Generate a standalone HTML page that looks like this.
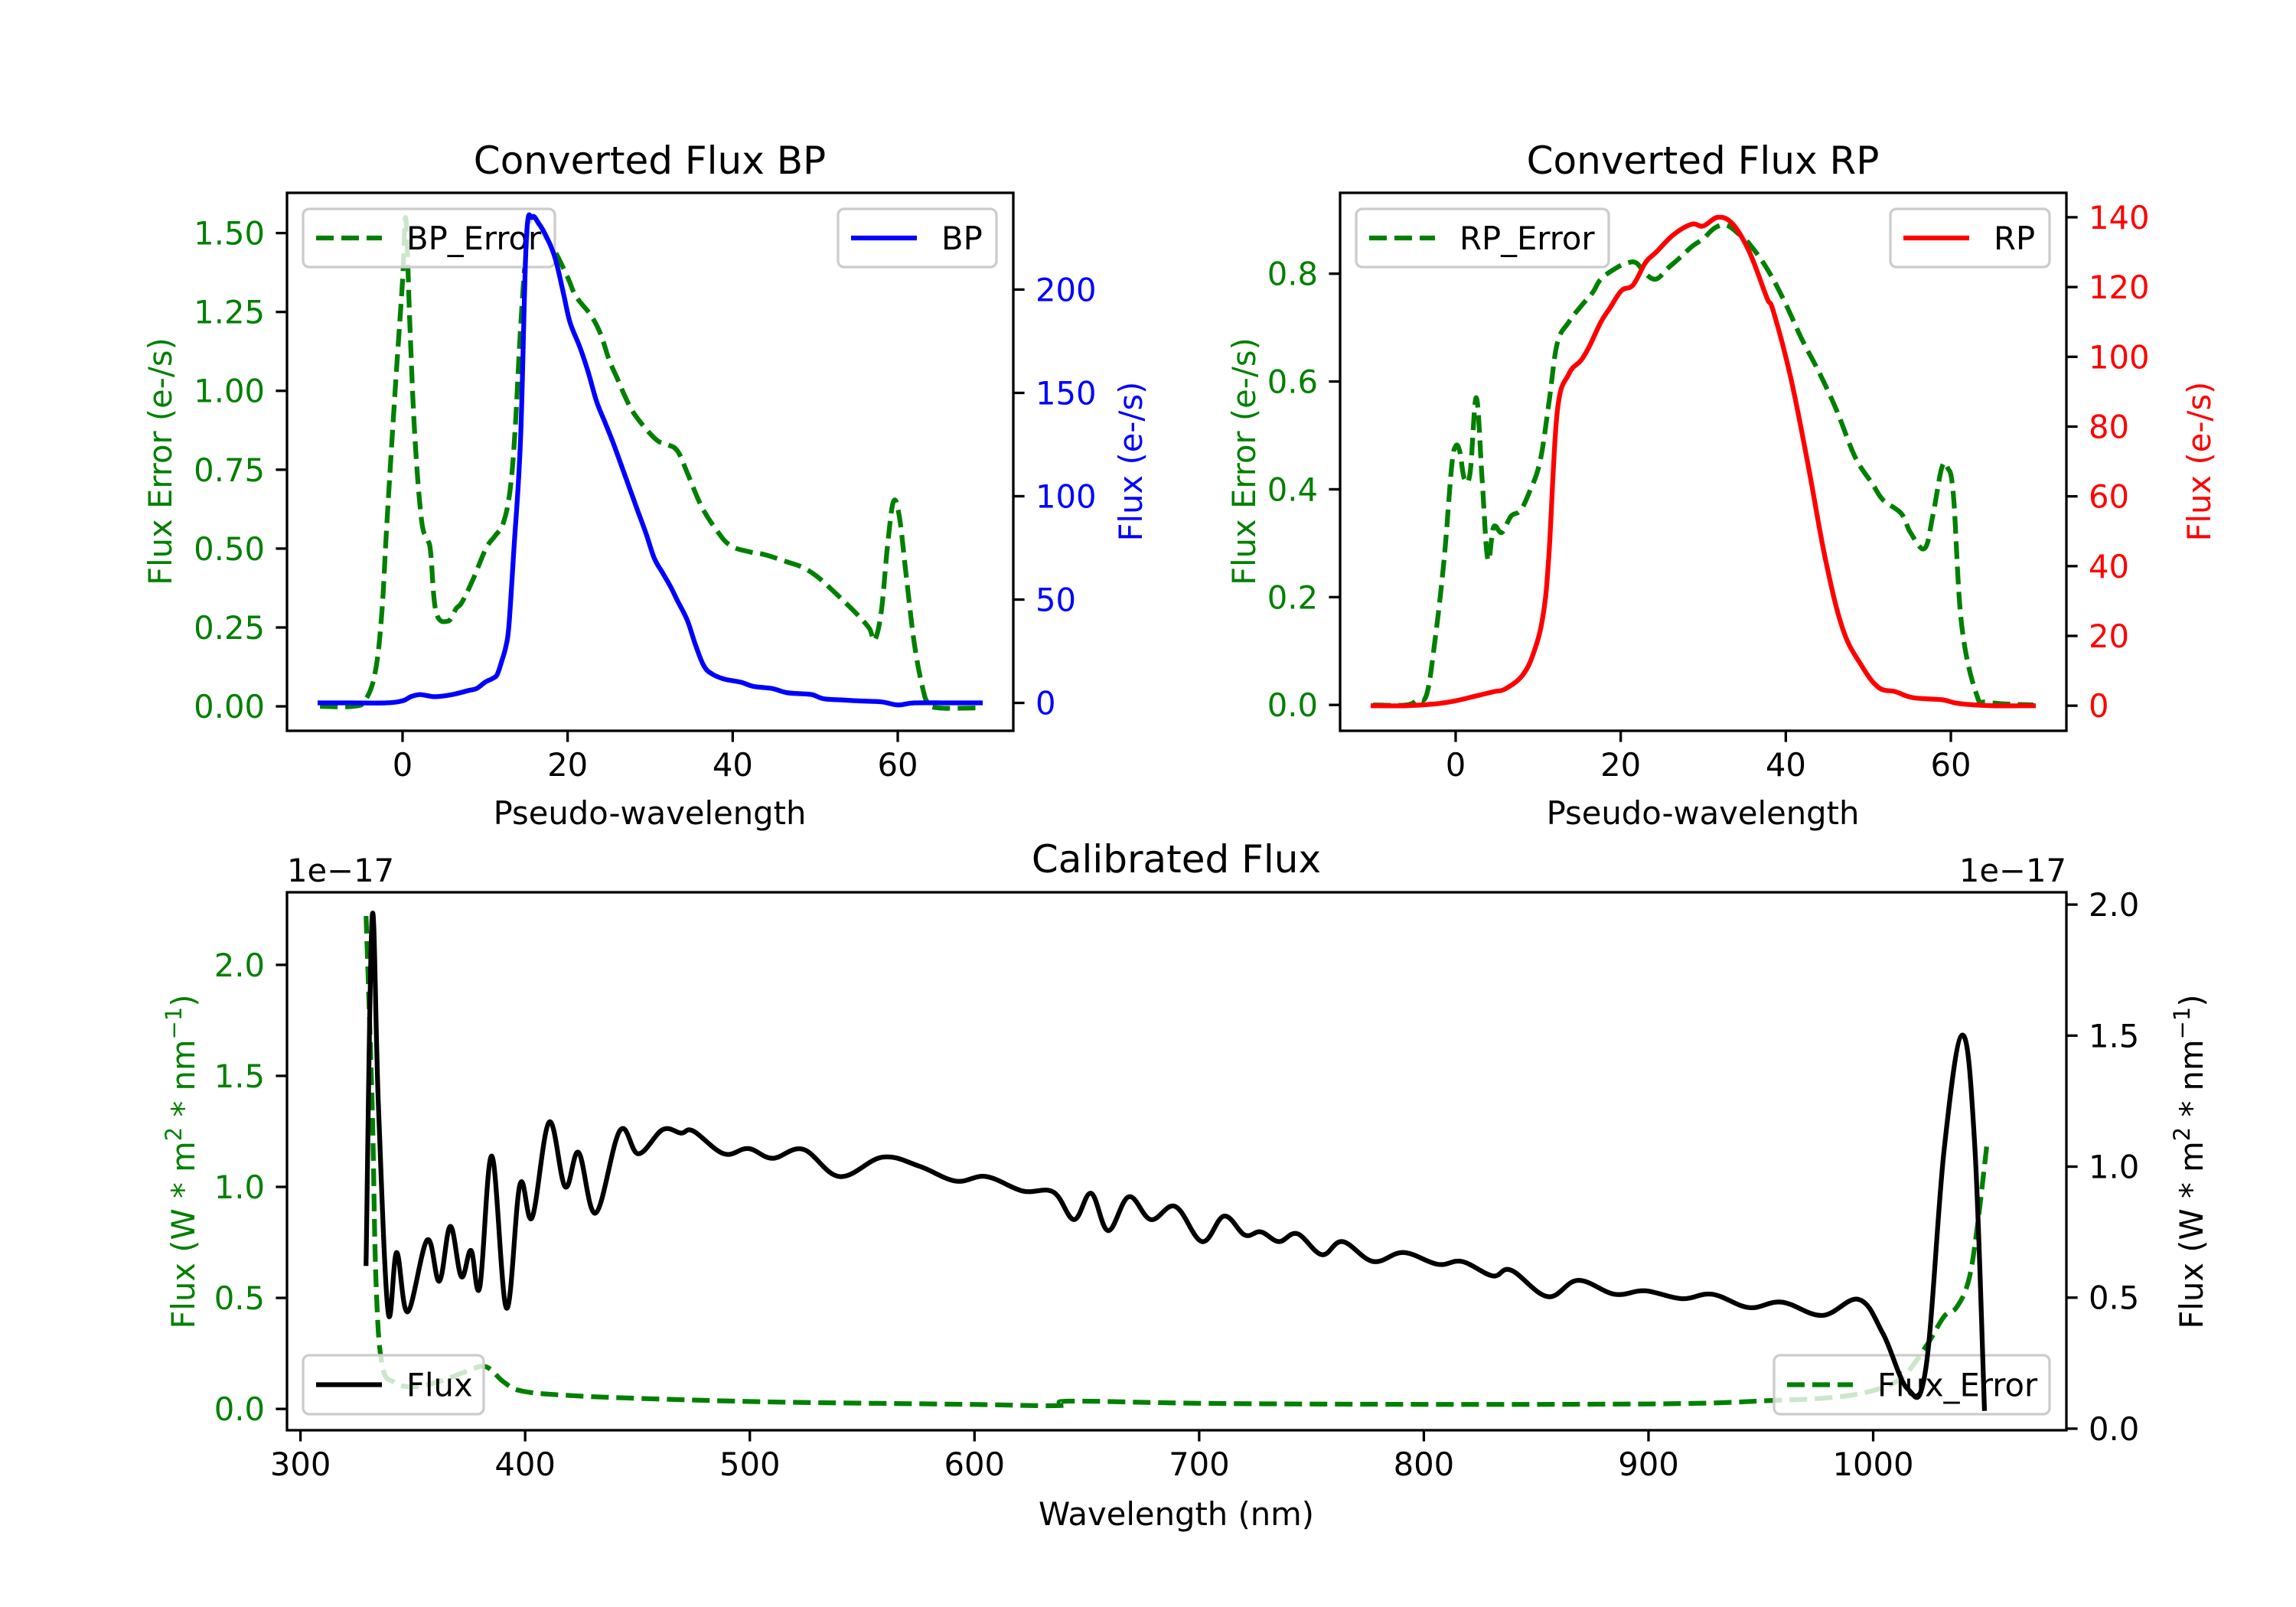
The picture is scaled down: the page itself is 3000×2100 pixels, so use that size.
<!DOCTYPE html>
<html><head><meta charset="utf-8">
<style>
html,body{margin:0;padding:0;background:#fff;}
svg{display:block;font-family:"DejaVu Sans","Liberation Sans",sans-serif;}
</style></head>
<body>
<svg id="fig" xmlns="http://www.w3.org/2000/svg" width="3000" height="2100" viewBox="0 0 3000 2100">
<rect x="0" y="0" width="3000" height="2100" fill="#fff"/>
</svg>
<script>
// ---- BP panel data ----
const bpErrX = [-10,-6,-4.5,-3.3,-2.5,-1.9,-0.85,0,0.4,0.9,1.5,2.3,3.0,3.4,4.05,5.5,6.5,7.2,8.5,10.1,11.2,12.2,13.0,13.6,14.3,15,15.7,17,18.5,20,21,22.8,24,25,26,27,28,29.8,31,32,33.3,34.5,36.2,38,39.7,42,44,46.8,48.5,50.3,52,54,55.5,56.6,57.2,58,58.8,59.5,60.2,61,62,63,63.7,65,70];
const bpErrY = [0,0,0.02,0.11,0.3,0.58,1.02,1.35,1.546,1.2,0.85,0.59,0.53,0.49,0.3,0.27,0.31,0.33,0.4,0.5,0.54,0.58,0.68,0.86,1.2,1.45,1.55,1.5,1.44,1.36,1.3,1.24,1.18,1.1,1.04,0.98,0.93,0.87,0.84,0.83,0.81,0.74,0.635,0.56,0.51,0.49,0.48,0.456,0.44,0.41,0.37,0.32,0.28,0.245,0.21,0.3,0.52,0.65,0.6,0.42,0.2,0.06,0.01,-0.005,-0.005];
const bpX = [-10,-6,-2,0,1,2,3,4,6,8,9,10,11,11.5,12,12.5,12.9,13.5,14.3,15,15.7,16.5,17.5,18.5,19.5,20.3,21.5,22.5,23.5,24.5,25.5,26.5,27.5,28.4,29.5,30.5,31.5,32.5,33.3,34.5,35.5,36.5,37.5,39,41,42.5,44.7,46.5,48,49.6,51,53,55,58,60,62,66,70];
const bpY = [0,0,0,1,3,4,3.5,3,4,6,7,10,12,14,20,27,38,75,128,224,235,232,225,215,198,184,172,160,146,136,126,115,104,94,82,70,63,56,49.5,40,28,18,14,11.5,10,8,7,5,4.5,4,2,1.5,1,0.5,-1,0,0,0];
// ---- RP panel data ----
const rpErrX = [-10,-6,-4.6,-3.5,-2.5,-1.4,-0.5,0,0.5,1.05,1.75,2.5,3.2,3.9,4.6,5.6,6.7,7.8,8.8,10.2,11.3,12.3,13.7,15.2,16.6,17.6,19.4,20.8,21.9,23,24.3,25.7,27.2,28.6,30,31.4,32.8,34.2,35.6,37.7,39.8,41.9,44.1,46.2,48.4,50.5,51.8,54,55.1,56.8,57.8,58.9,59.6,60.3,61.3,63.1,64.5,70];
const rpErrY = [0,0,0.01,0.02,0.12,0.27,0.44,0.48,0.47,0.42,0.43,0.57,0.42,0.27,0.33,0.32,0.35,0.36,0.39,0.45,0.56,0.67,0.71,0.74,0.765,0.79,0.81,0.82,0.82,0.8,0.79,0.81,0.83,0.85,0.865,0.885,0.89,0.875,0.855,0.81,0.75,0.68,0.615,0.545,0.46,0.41,0.38,0.355,0.32,0.29,0.35,0.44,0.44,0.39,0.15,0.02,0.005,0];
const rpX = [-10,-6,-2.5,0,2.5,4.6,6,8.1,9.5,10.6,11.3,12.3,13.7,15.2,16.2,17.6,18.7,20.1,21.5,23,24.3,26.4,28.6,30,31.8,33.6,35.6,37.7,38.5,40.6,42.7,44.8,46.9,49.1,51.2,53.3,55.4,58.9,61,65,70];
const rpY = [0,0,0.5,1.4,2.8,4,4.8,8.7,15.5,26,43,84,95,99,103,110,114,119,120.6,127,130,135,138,137.5,140,138,130,117,113,94,69,42,22,11.8,5.3,4,2.3,1.7,0.6,0,0];
// ---- Calibrated panel data (units of 1e-17) ----
const calX = [329.2,331.9,334.7,339,342.8,347.7,356.4,361.8,366.7,371.6,375.9,379.8,385.2,391.7,397.7,403.1,410.7,417.8,423.8,431.4,442.2,450.4,461.2,469.4,474.8,488.4,499.3,510.1,523.7,540,559,575.3,591.6,605.2,621.5,635.1,644.3,651.9,659.5,668.7,678.5,689.4,701.3,711.1,720.3,727.4,735.5,743.7,754.6,763.8,777.4,790.9,806.2,817,830.6,838.8,855.1,868.6,884.9,898.5,914.8,928.4,944.7,959.3,977.3,993.6,1004.4,1015.3,1023.4,1031.6,1039.7,1045.2,1049.5];
const calFlux = [0.63,1.954,1.23,0.446,0.672,0.446,0.72,0.563,0.772,0.58,0.68,0.54,1.04,0.46,0.932,0.806,1.17,0.923,1.054,0.823,1.138,1.049,1.141,1.128,1.136,1.049,1.069,1.032,1.066,0.962,1.036,1.002,0.945,0.962,0.907,0.903,0.798,0.898,0.756,0.885,0.798,0.848,0.714,0.811,0.739,0.751,0.714,0.744,0.664,0.714,0.638,0.672,0.627,0.638,0.583,0.605,0.504,0.566,0.513,0.526,0.496,0.513,0.462,0.483,0.432,0.493,0.362,0.152,0.228,1.066,1.502,1.083,0.077];
const calErrX = [329.2,331.9,333.6,336.3,341.7,349.9,360.7,374.3,382.5,390.6,398.8,420.5,458.5,512.8,594.3,637.8,642.1,703,784.4,865.9,920.3,952.8,980,999,1012.6,1023.4,1031.6,1037,1042.4,1046.2,1050.6];
const calErr = [2.22,1.37,0.575,0.2,0.12,0.1,0.12,0.17,0.19,0.12,0.08,0.06,0.045,0.031,0.021,0.015,0.035,0.025,0.021,0.021,0.025,0.037,0.05,0.08,0.14,0.28,0.417,0.456,0.575,0.81,1.19];
// tick arrays
const bpXTicks=[0,20,40,60], bpLTicks=[0,0.25,0.5,0.75,1.0,1.25,1.5], bpRTicks=[0,50,100,150,200];
const rpLTicks=[0,0.2,0.4,0.6,0.8], rpRTicks=[0,20,40,60,80,100,120,140];
const calXTicks=[300,400,500,600,700,800,900,1000], calLTicks=[0,0.5,1.0,1.5,2.0], calRTicks=[0,0.5,1.0,1.5,2.0];

const NS="http://www.w3.org/2000/svg";
const fig=document.getElementById('fig');
function mk(tag,attrs,parent){const e=document.createElementNS(NS,tag);for(const k in attrs)e.setAttribute(k,attrs[k]);(parent||fig).appendChild(e);return e;}
function txt(s,attrs,parent){const e=mk('text',attrs,parent);e.textContent=s;return e;}
function scale(d0,d1,p0,p1){return v=>p0+(v-d0)*(p1-p0)/(d1-d0);}
let clipN=0;
function panel(o){
  const g=mk('g',{});
  
  
  clipN++;
  const cp=mk('clipPath',{id:'c'+clipN},g);
  mk('rect',{x:o.l,y:o.t,width:o.r-o.l,height:o.b-o.t},cp);
  const sx=scale(o.xr[0],o.xr[1],o.l,o.r);
  const syL=scale(o.yl[0],o.yl[1],o.b,o.t);
  const syR=scale(o.yr[0],o.yr[1],o.b,o.t);
  return {g,sx,syL,syR,clip:'url(#c'+clipN+')'};
}
function smoothPath(pts){
  let d='M'+pts[0][0].toFixed(1)+','+pts[0][1].toFixed(1);
  for(let i=0;i<pts.length-1;i++){
    const p0=pts[Math.max(0,i-1)],p1=pts[i],p2=pts[i+1],p3=pts[Math.min(pts.length-1,i+2)];
    const t=0.18;
    const c1=[p1[0]+(p2[0]-p0[0])*t,p1[1]+(p2[1]-p0[1])*t];
    const c2=[p2[0]-(p3[0]-p1[0])*t,p2[1]-(p3[1]-p1[1])*t];
    d+='C'+c1[0].toFixed(1)+','+c1[1].toFixed(1)+' '+c2[0].toFixed(1)+','+c2[1].toFixed(1)+' '+p2[0].toFixed(1)+','+p2[1].toFixed(1);
  }
  return d;
}
function line(P,xs,ys,sy,color,dashed,name){
  const pts=xs.map((x,i)=>[P.sx(x),sy(ys[i])]);
  const a={d:smoothPath(pts),fill:'none',stroke:color,'stroke-width':6.25,'stroke-linejoin':'round','clip-path':P.clip};
  if(dashed){a['stroke-dasharray']='23 10';a['stroke-linecap']='butt';}else a['stroke-linecap']='square';
  const e=mk('path',a,P.g);
  
  
}
function legend(P,x,y,w,h,color,dashed,label,name){
  const g=mk('g',{},P.g);
  
  
  mk('rect',{x:x,y:y,width:w,height:h,rx:8,fill:'#fff','fill-opacity':0.8,stroke:'#cccccc','stroke-width':3.3},g);
  const a={x1:x+17,x2:x+17+86,y1:y+h/2,y2:y+h/2,stroke:color,'stroke-width':6.25};
  if(dashed)a['stroke-dasharray']='23 10';
  mk('line',a,g);
  txt(label,{x:x+135,y:y+h/2+15,'font-size':41.7,fill:'#000'},g);
}
function axesFrame(P,o,lt,lfmt,lcol,rt,rfmt,rcol,xt,xfmt){
  const g=P.g;
  mk('rect',{x:o.l,y:o.t,width:o.r-o.l,height:o.b-o.t,fill:'none',stroke:'#000','stroke-width':3.3},g);
  xt.forEach(v=>{const x=P.sx(v);
    mk('line',{x1:x,x2:x,y1:o.b,y2:o.b+14.6,stroke:'#000','stroke-width':3.3},g);
    txt(xfmt(v),{x:x,y:o.b+59,'font-size':41.7,'text-anchor':'middle',fill:'#000'},g);});
  lt.forEach(v=>{const y=P.syL(v);
    mk('line',{x1:o.l-14.6,x2:o.l,y1:y,y2:y,stroke:'#000','stroke-width':3.3},g);
    txt(lfmt(v),{x:o.l-29,y:y+15,'font-size':41.7,'text-anchor':'end',fill:lcol},g);});
  rt.forEach(v=>{const y=P.syR(v);
    mk('line',{x1:o.r,x2:o.r+14.6,y1:y,y2:y,stroke:'#000','stroke-width':3.3},g);
    txt(rfmt(v),{x:o.r+29,y:y+15,'font-size':41.7,'text-anchor':'start',fill:rcol},g);});
}
function ylabel(s,x,y,col,name){const e=txt(s,{x:x,y:y,'font-size':41.7,'text-anchor':'middle',fill:col,transform:'rotate(-90 '+x+' '+y+')'});
  return e;}
function title(s,x,y,name,size,anchor){const e=txt(s,{x:x,y:y,'font-size':size||50,'text-anchor':anchor||'middle',fill:'#000'});
  return e;}

// ---- BP ----
const oBP={name:'bp-panel',l:375,r:1324,t:252,b:955,xr:[-14,74],yl:[-0.0775,1.6275],yr:[-13.5,246.8]};
const BP=panel(oBP);
line(BP,bpErrX,bpErrY,BP.syL,'#008000',true,'bp-error-line');
legend(BP,396,273,329,76,'#008000',true,'BP_Error','bp-error-legend');
line(BP,bpX,bpY,BP.syR,'#0000ff',false,'bp-flux-line');
legend(BP,1095,273,207,76,'#0000ff',false,'BP','bp-legend');
axesFrame(BP,oBP,bpLTicks,v=>v.toFixed(2),'#008000',bpRTicks,v=>String(v),'#0000ff',bpXTicks,v=>String(v));
title('Converted Flux BP',849,227,'bp-title');
title('Pseudo-wavelength',849,1077,'bp-x-axis-title',41.7);
ylabel('Flux Error (e-/s)',224,603,'#008000','bp-left-y-axis-title');
ylabel('Flux (e-/s)',1492,603,'#0000ff','bp-right-y-axis-title');

// ---- RP ----
const oRP={name:'rp-panel',l:1751,r:2700,t:252,b:955,xr:[-14,74],yl:[-0.048,0.95],yr:[-7.2,147]};
const RP=panel(oRP);
line(RP,rpErrX,rpErrY,RP.syL,'#008000',true,'rp-error-line');
legend(RP,1772,273,330,76,'#008000',true,'RP_Error','rp-error-legend');
line(RP,rpX,rpY,RP.syR,'#ff0000',false,'rp-flux-line');
legend(RP,2470,273,208,76,'#ff0000',false,'RP','rp-legend');
axesFrame(RP,oRP,rpLTicks,v=>v.toFixed(1),'#008000',rpRTicks,v=>String(v),'#ff0000',bpXTicks,v=>String(v));
title('Converted Flux RP',2225,227,'rp-title');
title('Pseudo-wavelength',2225,1077,'rp-x-axis-title',41.7);
ylabel('Flux Error (e-/s)',1640,603,'#008000','rp-left-y-axis-title');
ylabel('Flux (e-/s)',2888,603,'#ff0000','rp-right-y-axis-title');

// ---- Calibrated ----
const oC={name:'calibrated-panel',l:375,r:2700,t:1166,b:1869,xr:[294,1086],yl:[-0.096,2.327],yr:[-0.006,2.047]};
const C=panel(oC);
line(C,calErrX,calErr,C.syL,'#008000',true,'flux-error-line');
legend(C,2318,1771,360,77,'#008000',true,'Flux_Error','flux-error-legend');
line(C,calX,calFlux,C.syR,'#000000',false,'flux-line');
legend(C,396,1771,236,77,'#000000',false,'Flux','flux-legend');
axesFrame(C,oC,calLTicks,v=>v.toFixed(1),'#008000',calRTicks,v=>v.toFixed(1),'#000',calXTicks,v=>String(v));
title('Calibrated Flux',1537,1140,'calibrated-title');
title('1e\u221217',375,1152,'left-offset-label',41.7,'start');
title('1e\u221217',2700,1152,'right-offset-label',41.7,'end');
title('Wavelength (nm)',1537,1993,'calibrated-x-axis-title',41.7);
const yl1=ylabel('Flux (W * m',254,1518,'#008000','calibrated-left-y-axis-title');
const yl2=ylabel('Flux (W * m',2878,1518,'#000','calibrated-right-y-axis-title');
[yl1,yl2].forEach(e=>{e.textContent='';
  const parts=[['Flux (W * m',0],['2',1],[' * nm',0],['\u22121',1],[')',0]];
  parts.forEach(p=>{const s=document.createElementNS(NS,'tspan');s.textContent=p[0];
    if(p[1]){s.setAttribute('font-size','29');s.setAttribute('baseline-shift','super');}
    e.appendChild(s);});
});
</script>
</body></html>
